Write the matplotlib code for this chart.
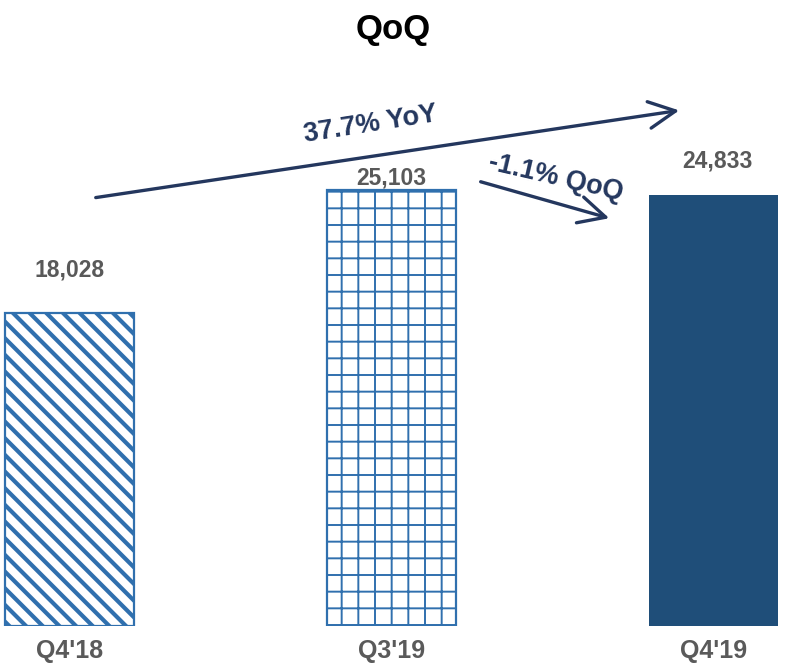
import matplotlib
matplotlib.use("Agg")
import matplotlib.pyplot as plt

# Quarterly values
quarters = ["Q4'18", "Q3'19", "Q4'19"]
values = [18028, 25103, 24833]
hatches = ["\\\\", "+", ""]
hatch_widths = [3.0, 1.4, 1.0]
yoy_text = "37.7% YoY"
qoq_text = "-1.1% QoQ"

W, H = 787, 669
fig = plt.figure(figsize=(W / 100, H / 100), dpi=100)

base_px = 626          # pixel row of the zero line
px_per_unit = 0.01737  # vertical scale
x0_px, step_px = 69.5, 322

ax = fig.add_axes([0, (H - base_px) / H, 1, base_px / H])
ax.set_xlim(-x0_px / step_px, (W - x0_px) / step_px)
ax.set_ylim(0, base_px / px_per_unit)
ax.axis("off")

hatch_col = "#3070ae"
solid_col = "#1f4e79"
for i, (v, h, hw) in enumerate(zip(values, hatches, hatch_widths)):
    plt.rcParams["hatch.linewidth"] = hw
    plt.rcParams["hatch.color"] = hatch_col
    if h:
        ax.bar(i, v, width=0.403, facecolor="white", edgecolor=hatch_col,
               hatch=h, linewidth=1.6)
    else:
        ax.bar(i, v, width=0.403, color=solid_col, linewidth=0)

font = ["Liberation Sans", "DejaVu Sans"]

# value labels above bars
label_offsets = [(0, 31), (0, 8.5), (2.5, 24)]
for i, v in enumerate(values):
    ax.annotate(f"{v:,}", (i, v), xytext=label_offsets[i], textcoords="offset points",
                ha="center", va="center", fontsize=16.5, fontweight="bold",
                color="#595959", family=font)

# category labels under bars
for i, q in enumerate(quarters):
    ax.annotate(q, (i, 0), xytext=(0, -18), textcoords="offset points",
                ha="center", va="center", fontsize=18, fontweight="bold",
                color="#5a5a5a", family=font, annotation_clip=False)

fig.text(0.5, 1 - 30 / H, "QoQ", ha="center", va="center", fontsize=25,
         fontweight="bold", color="black", family=font)


def fpos(px, py):
    return (px / W, 1 - py / H)


navy = "#24375e"
arrow_kw = dict(arrowstyle="->,head_length=0.8,head_width=0.4", lw=2.4,
                color=navy, mutation_scale=24)
fig.add_artist(matplotlib.patches.FancyArrowPatch(
    fpos(93, 198), fpos(682, 110), transform=fig.transFigure, **arrow_kw))
fig.add_artist(matplotlib.patches.FancyArrowPatch(
    fpos(478, 181), fpos(612, 219), transform=fig.transFigure, **arrow_kw))

fig.text(*fpos(371, 125), yoy_text, rotation=9, ha="center", va="center",
         rotation_mode="anchor", fontsize=19.5, fontweight="bold", color=navy,
         family=font)
fig.text(*fpos(556, 178), qoq_text, rotation=-13, ha="center", va="center",
         rotation_mode="anchor", fontsize=19.5, fontweight="bold", color=navy,
         family=font)

fig.savefig("out.png", dpi=100, facecolor="white")
